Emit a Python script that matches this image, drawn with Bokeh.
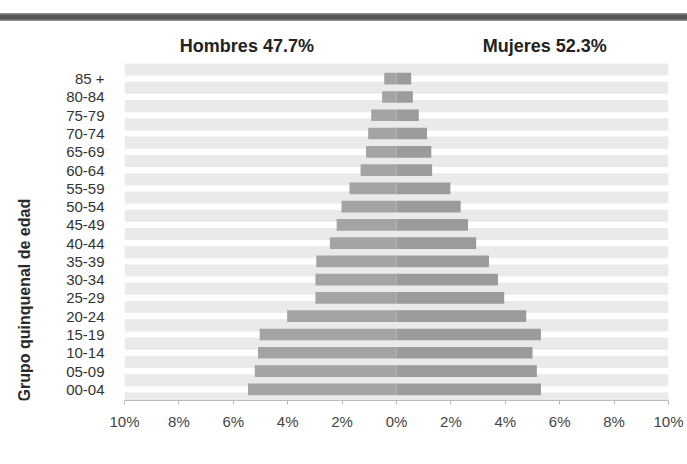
import math
from bokeh.plotting import figure
from bokeh.models import ColumnDataSource, FixedTicker, Range1d, Div
from bokeh.layouts import column, row
from bokeh.core.properties import value
from bokeh.embed import file_html
from bokeh.resources import INLINE

age_groups = ["00-04", "05-09", "10-14", "15-19", "20-24", "25-29", "30-34",
              "35-39", "40-44", "45-49", "50-54", "55-59", "60-64", "65-69",
              "70-74", "75-79", "80-84", "85 +"]
hombres = [5.46, 5.21, 5.09, 5.03, 4.02, 2.98, 2.98, 2.95, 2.45, 2.20, 2.02,
           1.73, 1.32, 1.12, 1.04, 0.93, 0.53, 0.45]
mujeres = [5.31, 5.16, 5.00, 5.31, 4.77, 3.96, 3.73, 3.40, 2.93, 2.63, 2.36,
           1.98, 1.31, 1.28, 1.12, 0.82, 0.60, 0.54]
x_ticks = [-10, -8, -6, -4, -2, 0, 2, 4, 6, 8, 10]
x_tick_labels = ["10%", "8%", "6%", "4%", "2%", "0%", "2%", "4%", "6%", "8%", "10%"]
group_titles = ["Hombres 47.7%", "Mujeres 52.3%"]
group_title_x = [-5.5, 5.45]
axis_title = "Grupo quinquenal de edad"
x_limit = 10

FONT = "Liberation Sans"
n = len(age_groups)
idx = list(range(n))
Y_LO, Y_HI = -0.613, 19.967
H = 443
TOP, BOTTOM = 3, 64
LEFT_W = 48

rule = Div(width=687, height=21,
           text='<div style="margin:0;padding-top:13px;"><div style="height:8px;width:687px;'
                'background:linear-gradient(#a0a0a0,#585858 30%,#555555 70%,#9a9a9a);"></div></div>',
           margin=(0, 0, 0, 0))

# narrow strip holding the rotated axis title (frame aligned with the chart's)
side = figure(width=LEFT_W, height=H, output_backend="svg", toolbar_location=None,
              x_range=Range1d(0, 1), y_range=Range1d(Y_LO, Y_HI),
              x_axis_type=None, y_axis_type=None,
              min_border_left=0, min_border_right=0, min_border_top=TOP,
              min_border_bottom=BOTTOM, margin=(0, 0, 0, 0))
side.outline_line_color = None
side.grid.visible = False
side.text(x=[0.5], y=[4.88], text=[axis_title], angle=math.pi / 2,
          text_align="center", text_baseline="middle", text_font=value(FONT),
          text_font_size="16px", text_font_style="bold", text_color="#2a2a2a")

p = figure(width=687 - LEFT_W, height=H, output_backend="svg", toolbar_location=None,
           x_range=Range1d(-x_limit, x_limit), y_range=Range1d(Y_LO, Y_HI),
           min_border_left=124 - LEFT_W, min_border_right=19, min_border_top=TOP,
           min_border_bottom=BOTTOM, margin=(0, 0, 0, 0))
p.outline_line_color = None
p.xgrid.visible = False
p.ygrid.visible = False
p.background_fill_color = "white"

# background stripes (between categories)
band_y = [i - 0.5 for i in range(n + 1)]
bands = ColumnDataSource(dict(y=band_y, left=[-x_limit] * len(band_y),
                              right=[x_limit] * len(band_y)))
p.hbar(y="y", left="left", right="right", height=0.66, source=bands,
       fill_color="#eaeaea", line_color=None)

src = ColumnDataSource(dict(y=idx, m=[-v for v in hombres], f=mujeres, zero=[0] * n))
p.hbar(y="y", left="m", right="zero", height=0.64, source=src,
       fill_color="#a4a4a4", line_color=None)
p.hbar(y="y", left="zero", right="f", height=0.64, source=src,
       fill_color="#9b9b9b", line_color=None)

# group titles
tsrc = ColumnDataSource(dict(x=group_title_x, y=[n - 1 + 1.817] * 2, t=group_titles))
p.text(x="x", y="y", text="t", source=tsrc, text_align="center",
       text_baseline="middle", text_font=value(FONT), text_font_size="18px",
       text_font_style="bold", text_color="#222222")

# axes
p.xaxis.ticker = FixedTicker(ticks=x_ticks)
p.xaxis.major_label_overrides = {t: l for t, l in zip(x_ticks, x_tick_labels)}
p.xaxis.axis_line_color = "#b8b8b8"
p.xaxis.major_tick_line_color = "#b8b8b8"
p.xaxis.major_tick_out = 4
p.xaxis.major_tick_in = 0
p.xaxis.minor_tick_line_color = None
p.xaxis.major_label_standoff = 8
p.xaxis.major_label_text_font = FONT
p.xaxis.major_label_text_font_size = "15px"
p.xaxis.major_label_text_color = "#444444"

p.yaxis.ticker = FixedTicker(ticks=idx)
p.yaxis.major_label_overrides = {i: g for i, g in zip(idx, age_groups)}
p.yaxis.axis_line_color = None
p.yaxis.major_tick_line_color = None
p.yaxis.minor_tick_line_color = None
p.yaxis.major_label_standoff = 14
p.yaxis.major_label_text_font = FONT
p.yaxis.major_label_text_font_size = "15px"
p.yaxis.major_label_text_color = "#333333"

layout = column(rule, row(side, p, spacing=0, margin=(0, 0, 0, 0)),
                spacing=0, margin=(0, 0, 0, 0))
open("out.html", "w").write(file_html(layout, INLINE))
